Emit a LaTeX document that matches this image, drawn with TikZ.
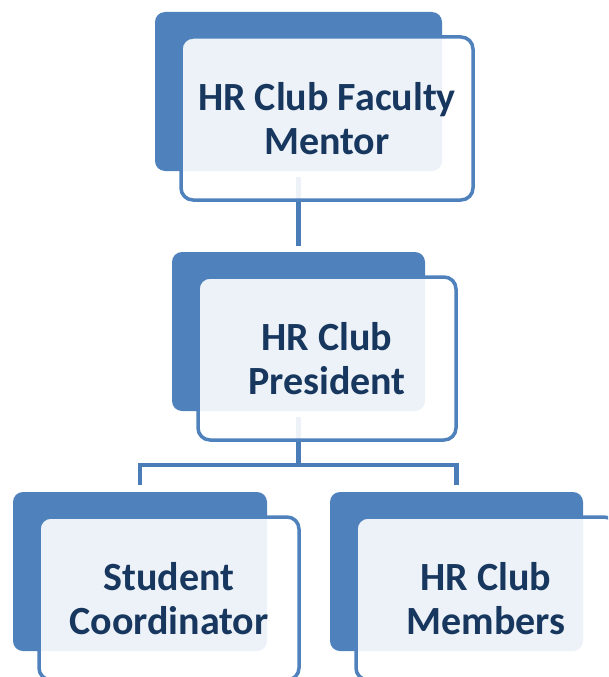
\documentclass[tikz,border=0pt]{standalone}
\usepackage{fontspec}
\setmainfont{Carlito}
\usetikzlibrary{backgrounds}
\definecolor{hrblue}{RGB}{79,129,189}
\definecolor{hrline}{RGB}{74,124,184}
\definecolor{hrtext}{RGB}{23,55,94}
\tikzset{
  backbox/.style={
    rectangle,
    rounded corners=10pt,
    fill=hrblue,
    minimum width=253pt,
    minimum height=159pt},
  frontbox/.style={
    rectangle,
    rounded corners=12pt,
    draw=hrblue, line width=3.5pt,
    fill=white, fill opacity=0.9, text opacity=1,
    minimum width=260pt,
    minimum height=163pt,
    text=hrtext,
    align=center,
    font=\bfseries\fontsize{40}{44}\selectfont},
  link/.style={draw=hrline, line width=4.5pt},
}

\begin{document}
\begin{tikzpicture}[x=1pt,y=-1pt]
  \useasboundingbox (0,0) rectangle (608,677);
  \clip (0,0) rectangle (608,677);
  % back plates
  \node[backbox, minimum width=287pt] (mentorbg) at (298.5,91.5) {};
  \node[backbox] (presidentbg) at (298.5,331.5) {};
  \node[backbox, minimum width=254pt] (coordbg) at (140,571.5) {};
  \node[backbox] (membersbg) at (456.5,571.5) {};
  % text boxes
  \node[frontbox, minimum width=292pt] (mentor) at (327,118.5) {HR Club Faculty\\Mentor};
  \node[frontbox, minimum width=258pt] (president) at (327,358.5) {HR Club\\President};
  \node[frontbox] (coord) at (169,598.5) {Student\\Coordinator};
  \node[frontbox] (members) at (486,598.5) {HR Club\\Members};
  % connectors go under the boxes
  \begin{scope}[on background layer]
    \coordinate (fork) at (298.5,465);
    \draw[link, shorten >=6pt] ([yshift=-6pt]mentorbg.south) -- (presidentbg.north);
    \draw[link] ([yshift=-6pt]presidentbg.south) -- (fork);
    \draw[link, shorten >=7pt] (fork) -| (coordbg.north);
    \draw[link, shorten >=7pt] (fork) -| (membersbg.north);
  \end{scope}
\end{tikzpicture}
\end{document}
